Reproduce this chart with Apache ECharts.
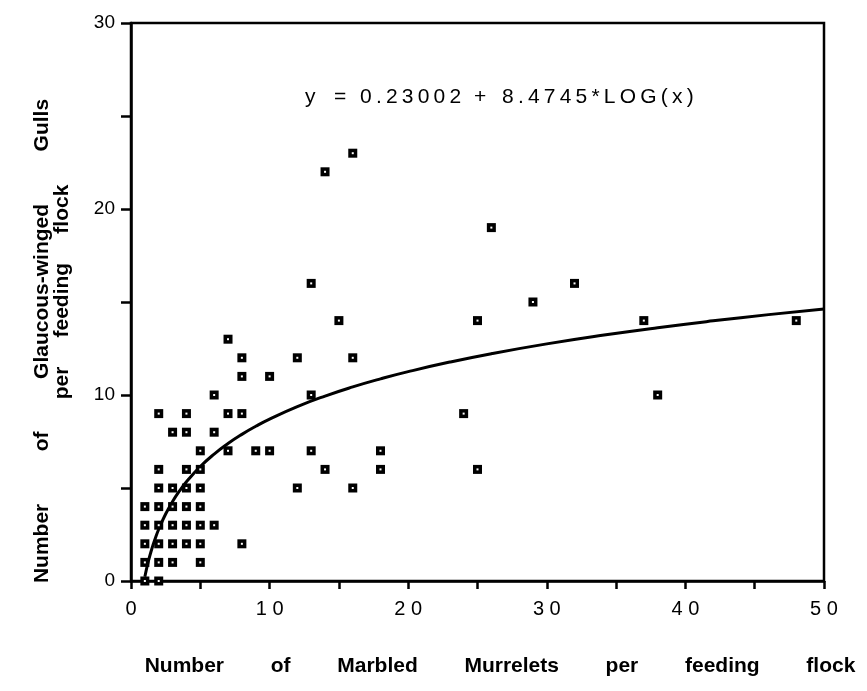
<!DOCTYPE html>
<html>
<head>
<meta charset="utf-8">
<script src="https://cdn.jsdelivr.net/npm/echarts@6/dist/echarts.min.js"></script>
<style>
  html, body { margin: 0; padding: 0; background: #fff; }
  #chart { width: 867px; height: 691px; }
</style>
</head>
<body>
<div id="chart"></div>
<script>
// Gulls vs murrelets per feeding flock, with log regression
const murrelets = [
    1, 2,
    1, 2, 3, 5,
    1, 2, 3, 4, 5, 8,
    1, 2, 3, 4, 5, 6,
    1, 2, 3, 4, 5,
    2, 3, 4, 5, 12, 16,
    2, 4, 5, 14, 18, 25,
    5, 7, 9, 10, 13, 18,
    3, 4, 6,
    2, 4, 7, 8, 24,
    6, 13, 38,
    8, 10,
    8, 12, 16,
    7,
    15, 25, 37, 48,
    29,
    13, 32,
    26,
    14,
    16
];
const gulls = [
    0, 0,
    1, 1, 1, 1,
    2, 2, 2, 2, 2, 2,
    3, 3, 3, 3, 3, 3,
    4, 4, 4, 4, 4,
    5, 5, 5, 5, 5, 5,
    6, 6, 6, 6, 6, 6,
    7, 7, 7, 7, 7, 7,
    8, 8, 8,
    9, 9, 9, 9, 9,
    10, 10, 10,
    11, 11,
    12, 12, 12,
    13,
    14, 14, 14, 14,
    15,
    16, 16,
    19,
    22,
    23
];
// regression printed on the chart: y = a + b*LOG(x)
const fitA = 0.23002;
const fitB = 8.4745;
const fitX = [1, 1.25, 1.5, 1.75, 2, 2.5, 3, 3.5, 4, 5, 6, 7, 8, 9, 10, 12, 14, 16, 18, 20, 23, 26, 30, 34, 38, 42, 46, 50];

const xTicks = [0, 10, 20, 30, 40, 50];
const yTicks = [0, 10, 20, 30];

const FONT = "'Liberation Sans', Arial, sans-serif";
const track = s => s.split("").join("\u2009");   // loose letter spacing of the original

const points = murrelets.map((x, i) => [x, gulls[i]]);
const curve = fitX.map(x => [x, fitA + fitB * Math.log10(x)]);

const chart = echarts.init(document.getElementById("chart"), null, { renderer: "canvas" });

function eqText(x, s) {
    return { type: "text", x: x, y: 97, style: { text: s, font: "21px " + FONT, fill: "#000", verticalAlign: "middle" } };
}

const option = {
    backgroundColor: "#ffffff",
    animation: false,
    grid: {
        left: 131, right: 43, top: 23, bottom: 110,
        show: true, borderColor: "#000", borderWidth: 2.5, backgroundColor: "transparent"
    },
    xAxis: {
        type: "value", min: 0, max: 50, interval: 5,
        axisLine: { show: true, lineStyle: { color: "#000", width: 2.5 } },
        axisTick: { show: true, length: 8, lineStyle: { color: "#000", width: 2.5 } },
        splitLine: { show: false },
        axisLabel: {
            margin: 18, color: "#000", fontFamily: FONT, fontSize: 20,
            formatter: v => xTicks.includes(v) ? String(v).split("").join(" ") : ""
        }
    },
    yAxis: {
        type: "value", min: 0, max: 30, interval: 5,
        axisLine: { show: true, lineStyle: { color: "#000", width: 2.5 } },
        axisTick: { show: true, length: 10, lineStyle: { color: "#000", width: 2.5 } },
        splitLine: { show: false },
        axisLabel: {
            margin: 16, color: "#000", fontFamily: FONT, fontSize: 19,
            formatter: v => yTicks.includes(v) ? String(v) : ""
        }
    },
    series: [
        {
            type: "line", data: curve, smooth: true, symbol: "none",
            lineStyle: { color: "#000", width: 3 }, z: 2
        },
        {
            type: "scatter", data: points, symbol: "rect", symbolSize: 9,
            itemStyle: { color: "#000", opacity: 1 }, z: 3
        },
        {
            type: "scatter", data: points, symbol: "rect", symbolSize: 2,
            itemStyle: { color: "#fff", opacity: 1 }, z: 4, silent: true
        }
    ],
    graphic: [
        eqText(305, "y"),
        eqText(334, "="),
        eqText(360, track("0.23002")),
        eqText(474, "+"),
        eqText(502, track("8.4745*LOG(x)")),
        {
            type: "text", x: 500, y: 666,
            style: {
                text: "Number        of        Marbled        Murrelets        per        feeding        flock",
                font: "bold 21px " + FONT, fill: "#000", align: "center", verticalAlign: "middle"
            }
        },
        {
            type: "text", x: 42, y: 341, rotation: Math.PI / 2,
            style: {
                text: "Number         of         Glaucous-winged         Gulls",
                font: "bold 21px " + FONT, fill: "#000", align: "center", verticalAlign: "middle"
            }
        },
        {
            type: "text", x: 62, y: 292, rotation: Math.PI / 2,
            style: {
                text: "per     feeding     flock",
                font: "bold 21px " + FONT, fill: "#000", align: "center", verticalAlign: "middle"
            }
        }
    ]
};

chart.setOption(option);
window.addEventListener("resize", () => chart.resize());
</script>
</body>
</html>
